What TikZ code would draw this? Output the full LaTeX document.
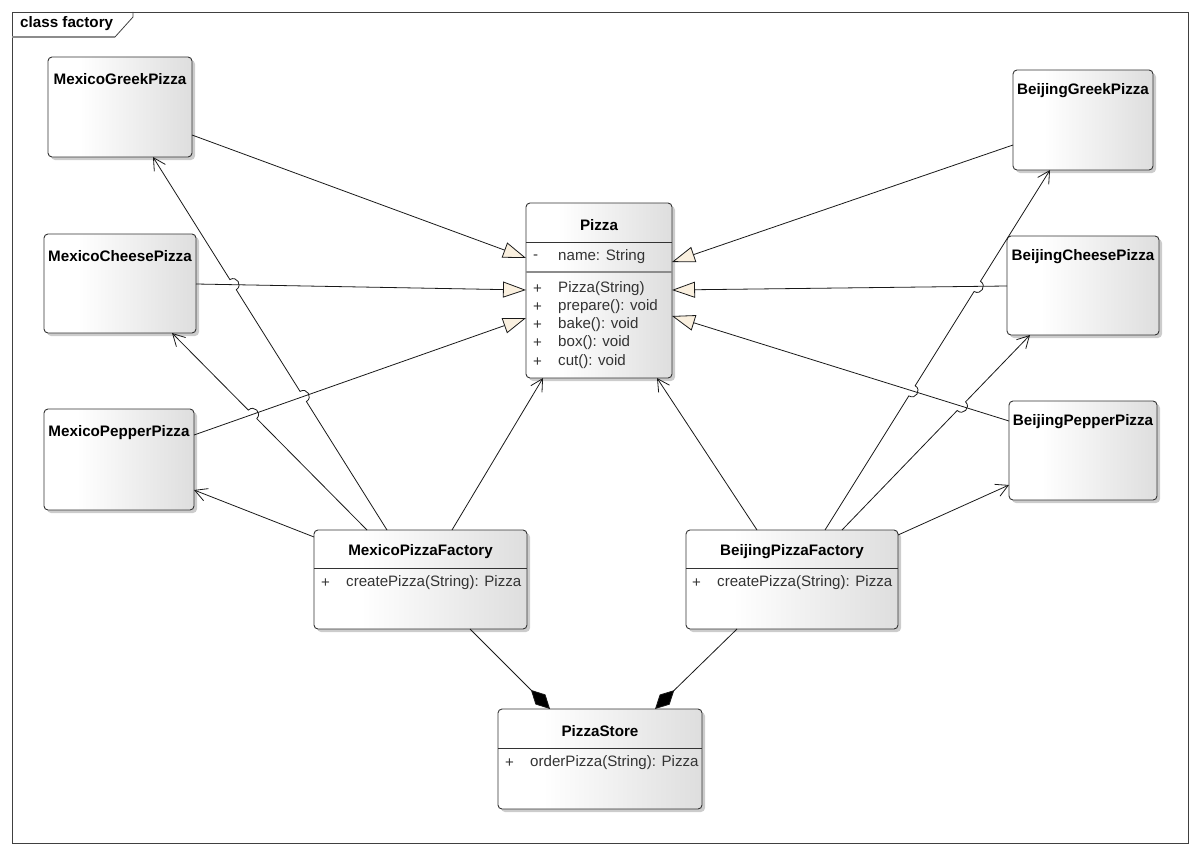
\documentclass[tikz,border=0pt]{standalone}
\usepackage{fontspec}
\setmainfont{Liberation Sans}
\usetikzlibrary{arrows.meta,shadows,calc,intersections}
\definecolor{cream}{HTML}{FAF0DF}
\definecolor{txt}{HTML}{333333}
\pgfdeclarehorizontalshading{clsshade}{100bp}{color(0bp)=(white); color(36bp)=(white); color(75bp)=(black!13); color(100bp)=(black!13)}
\newcommand\mkhop[3]{%
  \coordinate (#1a) at ($(#1)!6pt!(#2)$);
  \coordinate (#1b) at ($(#1)!6pt!(#3)$);
  \coordinate (#1c) at ($(#1a)!1.333!-90:(#1)$);
  \coordinate (#1d) at ($(#1b)!1.333!90:(#1)$);
}
\begin{document}
\begin{tikzpicture}[x=1pt,y=-1pt,
  cls/.style={draw=black!80, line width=0.9pt, rounded corners=4pt, shading=clsshade,
    drop shadow={shadow xshift=3pt,shadow yshift=-3pt,fill=black!20,opacity=1},
    anchor=north west, inner sep=0pt, outer sep=0pt},
  ttl/.style={font=\fontsize{15.2}{17}\selectfont\bfseries, inner sep=0pt},
  mem/.style={font=\fontsize{15.1}{18}\selectfont, text=txt, inner sep=0pt, anchor=west},
  sep/.style={draw=black!80, line width=0.9pt},
  gen/.style={draw=black!90, line width=0.8pt, -{Triangle[length=23pt,width=16pt,fill=cream,line width=0.8pt]}},
  dep/.style={draw=black!90, line width=0.8pt, -{Straight Barb[length=12pt,width=13pt,line width=0.8pt]}},
  comp/.style={draw=black!90, line width=0.8pt, {Diamond[length=27pt,width=14pt,fill=black]}-},
]
\useasboundingbox (0,0) rectangle (1198,856);
% frame
\draw[black!75, line width=0.8pt] (12,12) rectangle (1188,843);
\draw[black!75, line width=0.8pt] (133,12) -- (133,17) -- (115,37);
\draw[black!45, line width=1.6pt] (115,37) -- (12,37);
\node[ttl, anchor=west] (fl) at (20,23.5) {class factory};

% boxes
\node[cls, minimum width=144pt, minimum height=100pt] (mgp) at (48,57) {};
\node[cls, minimum width=152pt, minimum height=99pt] (mcp) at (44,234) {};
\node[cls, minimum width=150pt, minimum height=101pt] (mpp) at (44,409) {};
\node[cls, minimum width=140pt, minimum height=100pt] (bgp) at (1013,70) {};
\node[cls, minimum width=152pt, minimum height=99pt] (bcp) at (1007,236) {};
\node[cls, minimum width=148pt, minimum height=99pt] (bpp) at (1009,401) {};
\node[cls, minimum width=146pt, minimum height=175pt] (pz) at (526,203) {};
\node[cls, minimum width=213pt, minimum height=99pt] (mfac) at (314,530) {};
\node[cls, minimum width=212pt, minimum height=99pt] (bfac) at (686,530) {};
\node[cls, minimum width=204pt, minimum height=100pt] (ps) at (498,709) {};

\node[ttl] (mgp-t) at (120,79) {MexicoGreekPizza};
\node[ttl] (mcp-t) at (120,256) {MexicoCheesePizza};
\node[ttl] (mpp-t) at (119,433) {MexicoPepperPizza};
\node[ttl] (bgp-t) at (1083,91) {BeijingGreekPizza};
\node[ttl] (bcp-t) at (1083,257) {BeijingCheesePizza};
\node[ttl] (bpp-t) at (1083,422) {BeijingPepperPizza};

% Pizza
\node[ttl] (pz-t) at (599,225) {Pizza};
\draw[sep] (pz.west |- 0,242) -- (pz.east |- 0,242);
\draw[sep, draw=black!45, line width=1.6pt] (pz.west |- 0,272) -- (pz.east |- 0,272);
\node[mem] (pz-a1v) at (533,257) {-};
\node[mem] (pz-a1) at (558,257) {name: String};
\node[mem] (pz-m1v) at (533,289) {+};
\node[mem] (pz-m1) at (558,289) {Pizza(String)};
\node[mem] (pz-m2v) at (533,307) {+};
\node[mem] (pz-m2) at (558,307) {prepare(): void};
\node[mem] (pz-m3v) at (533,325) {+};
\node[mem] (pz-m3) at (558,325) {bake(): void};
\node[mem] (pz-m4v) at (533,343) {+};
\node[mem] (pz-m4) at (558,343) {box(): void};
\node[mem] (pz-m5v) at (533,362) {+};
\node[mem] (pz-m5) at (558,362) {cut(): void};

% factories
\node[ttl] (mfac-t) at (420.5,552) {MexicoPizzaFactory};
\draw[sep] (mfac.west |- 0,568) -- (mfac.east |- 0,568);
\node[mem] (mfac-mv) at (321,583) {+};
\node[mem] (mfac-m) at (346,583) {createPizza(String): Pizza};
\node[ttl] (bfac-t) at (792,552) {BeijingPizzaFactory};
\draw[sep] (bfac.west |- 0,568) -- (bfac.east |- 0,568);
\node[mem] (bfac-mv) at (692,583) {+};
\node[mem] (bfac-m) at (717,583) {createPizza(String): Pizza};

% store
\node[ttl] (ps-t) at (600,731) {PizzaStore};
\draw[sep] (ps.west |- 0,748) -- (ps.east |- 0,748);
\node[mem] (ps-mv) at (505,763) {+};
\node[mem] (ps-m) at (530,763) {orderPizza(String): Pizza};

% generalizations
\draw[gen, name path=gMG] (mgp.east |- 0,135) -- (pz.west |- 0,258);
\draw[gen, name path=gMC] (mcp.east |- 0,284) -- (pz.west |- 0,290);
\draw[gen, name path=gMP] (mpp.east |- 0,435) -- (pz.west |- 0,318);
\draw[gen, name path=gBG] (bgp.west |- 0,145) -- (pz.east |- 0,262);
\draw[gen, name path=gBC] (bcp.west |- 0,286) -- (pz.east |- 0,290);
\draw[gen, name path=gBP] (bpp.west |- 0,421) -- (pz.east |- 0,316);

% dependency end points
\coordinate (mGs) at (mfac.north -| 387,0);
\coordinate (mGe) at (mgp.south -| 153,0);
\coordinate (mCs) at (mfac.north -| 367,0);
\coordinate (mCe) at (mcp.south -| 172,0);
\coordinate (mPs) at (mfac.west |- 0,537);
\coordinate (mPe) at (mpp.east |- 0,490);
\coordinate (mZs) at (mfac.north -| 452,0);
\coordinate (mZe) at (pz.south -| 543,0);
\coordinate (bZs) at (bfac.north -| 757,0);
\coordinate (bZe) at (pz.south -| 657,0);
\coordinate (bGs) at (bfac.north -| 825,0);
\coordinate (bGe) at (bgp.south -| 1050,0);
\coordinate (bCs) at (bfac.north -| 842,0);
\coordinate (bCe) at (bcp.south -| 1030,0);
\coordinate (bPs) at (bfac.east |- 0,535);
\coordinate (bPe) at (bpp.west |- 0,485);

\path[name path=dMG] (mGs) -- (mGe);
\path[name path=dMC] (mCs) -- (mCe);
\path[name path=dBG] (bGs) -- (bGe);
\path[name path=dBC] (bCs) -- (bCe);
\path[name intersections={of=dMG and gMP, by=ha}];
\path[name intersections={of=dMG and gMC, by=hb}];
\path[name intersections={of=dMC and gMP, by=hc}];
\path[name intersections={of=dBG and gBP, by=hd}];
\path[name intersections={of=dBG and gBC, by=he}];
\path[name intersections={of=dBC and gBP, by=hf}];
\mkhop{ha}{mGs}{mGe}
\mkhop{hb}{mGs}{mGe}
\mkhop{hc}{mCs}{mCe}
\mkhop{hd}{bGs}{bGe}
\mkhop{he}{bGs}{bGe}
\mkhop{hf}{bCs}{bCe}

\draw[dep] (mGs) -- (haa) .. controls (hac) and (had) .. (hab) -- (hba) .. controls (hbc) and (hbd) .. (hbb) -- (mGe);
\draw[dep] (mCs) -- (hca) .. controls (hcc) and (hcd) .. (hcb) -- (mCe);
\draw[dep] (mPs) -- (mPe);
\draw[dep] (mZs) -- (mZe);
\draw[dep] (bZs) -- (bZe);
\draw[dep] (bGs) -- (hda) .. controls (hdc) and (hdd) .. (hdb) -- (hea) .. controls (hec) and (hed) .. (heb) -- (bGe);
\draw[dep] (bCs) -- (hfa) .. controls (hfc) and (hfd) .. (hfb) -- (bCe);
\draw[dep] (bPs) -- (bPe);

% compositions
\coordinate (cLs) at (ps.north -| 550,0);
\coordinate (cLe) at (mfac.south -| 470,0);
\coordinate (cRs) at (ps.north -| 655,0);
\coordinate (cRe) at (bfac.south -| 737,0);
\draw[comp] (cLs) -- (cLe);
\draw[comp] (cRs) -- (cRe);
\end{tikzpicture}
\end{document}
